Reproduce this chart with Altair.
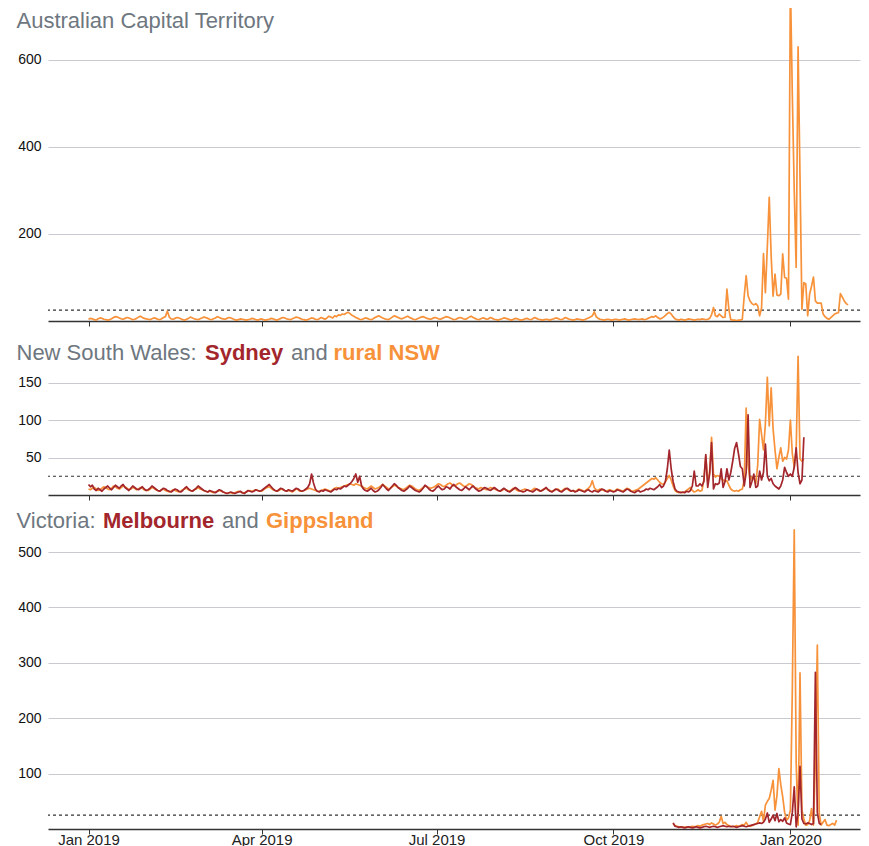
import altair as alt
import pandas as pd

# ---------------- data (daily PM2.5) ----------------
act_start = "2019-01-01"
act_pm = [
    # Jan 2019
    4, 6, 5, 3, 2, 5, 7, 6, 4, 3, 2, 3, 5, 8, 10, 9, 7, 5, 4, 6, 8, 7, 5, 3, 4, 6, 9, 11, 8, 6, 5,
    # Feb
    4, 3, 5, 7, 6, 4, 3, 5, 8, 10, 23, 9, 5, 4, 6, 8, 7, 5, 3, 2, 4, 6, 9, 7, 5, 4, 3, 5,
    # Mar
    7, 9, 8, 6, 4, 3, 5, 7, 10, 8, 6, 5, 4, 6, 8, 7, 5, 3, 2, 3, 5, 4, 3, 2, 3, 4, 6, 5, 3, 2, 4,
    # Apr
    5, 3, 2, 3, 4, 6, 5, 3, 2, 4, 6, 8, 7, 5, 4, 3, 5, 7, 9, 8, 6, 4, 3, 2, 3, 5, 7, 6, 4, 3,
    # May
    5, 8, 6, 4, 7, 11, 9, 7, 12, 10, 14, 13, 16, 15, 18, 20, 17, 13, 11, 8, 6, 4, 3, 5, 7, 6, 4, 3, 5, 8, 10,
    # Jun
    12, 9, 7, 5, 4, 3, 6, 9, 12, 10, 8, 6, 5, 7, 9, 11, 8, 6, 4, 3, 5, 7, 9, 10, 8, 6, 5, 4, 6, 8,
    # Jul
    7, 5, 4, 6, 8, 10, 9, 7, 5, 3, 4, 6, 8, 7, 5, 4, 6, 9, 11, 8, 6, 4, 3, 5, 7, 6, 4, 5, 8, 6, 4,
    # Aug
    3, 2, 4, 5, 7, 6, 5, 3, 2, 4, 6, 5, 3, 2, 3, 5, 6, 4, 3, 5, 8, 6, 4, 3, 2, 3, 4, 3, 2, 4, 5,
    # Sep
    7, 6, 4, 3, 5, 8, 6, 4, 3, 2, 3, 5, 4, 3, 2, 3, 5, 7, 9, 12, 21, 10, 6, 4, 3, 2, 3, 4, 3, 2,
    # Oct
    3, 4, 3, 2, 3, 4, 5, 3, 2, 3, 4, 5, 4, 3, 4, 5, 3, 4, 6, 8, 10, 9, 12, 8, 5, 6, 9, 13, 17, 20, 16,
    # Nov
    10, 5, 3, 2, 4, 3, 2, 3, 5, 4, 3, 2, 3, 4, 3, 5, 4, 3, 4, 6, 14, 31, 12, 10, 16, 12, 8, 9, 73, 27,
    # Dec
    3, 2, 2, 1, 2, 2, 4, 58, 104, 58, 46, 40, 37, 40, 35, 12, 30, 155, 65, 170, 284, 150, 57, 108, 60, 58,
    62, 154, 100, 98, 50,
    # Jan 2020
    780, 520, 300, 123, 630, 330, 27, 88, 85, 12, 62, 80, 101, 46, 41, 41, 41, 16, 10, 6, 4, 8, 12, 16,
    18, 19, 63, 55, 46, 40, 37,
]

nsw_start = "2019-01-01"
sydney_pm = [
    14, 11, 13, 8, 6, 9, 7, 5, 8, 10, 12, 9, 7, 10, 13, 11, 9, 12, 14, 10, 8, 6, 9, 12, 10, 8, 7, 9, 11, 8, 6,
    7, 9, 12, 10, 8, 6, 5, 7, 9, 8, 6, 5, 4, 6, 8, 7, 5, 4, 6, 9, 11, 8, 6, 5, 7, 9, 12, 10,
    8, 6, 5, 4, 6, 5, 4, 3, 5, 7, 6, 4, 3, 2, 3, 4, 3, 2, 3, 4, 5, 3, 2, 4, 6, 5, 4, 5, 7, 6, 5,
    6, 8, 10, 12, 14, 11, 8, 6, 5, 7, 9, 8, 6, 5, 7, 6, 5, 7, 9, 8, 6, 5, 6, 8, 10, 15, 28, 16, 8, 5,
    4, 6, 5, 7, 6, 5, 4, 6, 8, 7, 9, 8, 10, 12, 11, 13, 15, 18, 22, 28, 17, 25, 12, 8, 6, 5, 7, 9, 6, 4, 5,
    7, 10, 14, 11, 8, 6, 9, 12, 15, 13, 10, 8, 6, 5, 7, 9, 12, 10, 8, 6, 5, 4, 6, 9, 13, 11, 8, 6, 5, 7,
    10, 12, 9, 7, 8, 11, 10, 8, 12, 14, 11, 9, 7, 6, 8, 11, 9, 7, 10, 12, 9, 7, 5, 6, 8, 10, 9, 7, 6, 8, 10,
    8, 6, 5, 7, 9, 7, 5, 4, 6, 8, 10, 8, 6, 5, 4, 5, 7, 6, 5, 4, 6, 8, 7, 5, 6, 8, 10, 7, 5, 4, 6,
    8, 7, 5, 4, 6, 8, 9, 7, 5, 6, 4, 5, 7, 6, 5, 4, 6, 7, 5, 4, 6, 5, 4, 6, 8, 7, 5, 4, 6, 5,
    4, 5, 7, 6, 5, 4, 6, 8, 7, 5, 4, 3, 5, 6, 4, 5, 6, 8, 7, 9, 8, 7, 9, 11, 14, 10, 12, 18, 35, 60, 35,
    18, 8, 5, 4, 3, 4, 3, 5, 4, 6, 12, 32, 12, 12, 15, 12, 18, 54, 10, 28, 70, 8, 15, 14, 16, 35, 10, 18, 35, 20,
    30, 45, 62, 70, 55, 38, 35, 12, 30, 107, 10, 18, 28, 10, 12, 32, 20, 30, 68, 25, 19, 22, 15, 12, 10, 8,
    12, 20, 37, 30, 25,
    28, 25, 37, 63, 30, 15, 20, 77,
]
rural_nsw_pm = [
    8, 7, 9, 10, 8, 6, 7, 9, 11, 10, 8, 7, 9, 12, 11, 9, 8, 10, 12, 11, 9, 7, 8, 10, 9, 7, 8, 10, 9, 7, 6,
    6, 8, 10, 9, 7, 6, 5, 7, 8, 6, 5, 4, 5, 7, 6, 5, 4, 5, 7, 8, 9, 7, 6, 5, 7, 8, 10, 8,
    7, 6, 5, 4, 5, 4, 3, 4, 5, 6, 5, 4, 3, 2, 3, 3, 2, 3, 4, 5, 4, 3, 3, 4, 5, 6, 5, 6, 7, 6, 5,
    5, 7, 9, 10, 11, 9, 7, 6, 5, 6, 8, 7, 6, 5, 6, 5, 4, 6, 8, 7, 5, 5, 6, 7, 8, 9, 8, 7, 6, 5,
    5, 6, 7, 8, 7, 6, 5, 7, 9, 10, 9, 10, 11, 12, 13, 14, 15, 14, 13, 15, 14, 13, 12, 10, 9, 8, 10, 12, 10, 8, 9,
    10, 12, 14, 12, 10, 8, 9, 11, 13, 12, 10, 9, 8, 7, 9, 11, 13, 12, 10, 8, 7, 6, 8, 10, 12, 11, 10, 9, 10, 11,
    13, 15, 14, 12, 11, 13, 15, 16, 14, 12, 13, 15, 16, 14, 12, 11, 13, 15, 14, 12, 10, 9, 8, 10, 9, 8, 7, 8, 10, 9, 8,
    7, 6, 5, 6, 8, 7, 6, 5, 7, 9, 8, 6, 5, 6, 7, 8, 7, 6, 5, 7, 9, 8, 6, 5, 7, 8, 9, 7, 6, 5, 6,
    7, 8, 6, 5, 7, 9, 8, 6, 5, 6, 5, 6, 8, 7, 6, 5, 7, 9, 12, 19, 10, 7, 6, 8, 7, 6, 5, 6, 7, 6,
    5, 6, 8, 7, 6, 5, 7, 9, 8, 6, 5, 6, 7, 8, 10, 12, 14, 16, 18, 20, 22, 21, 23, 20, 17, 15, 14, 18, 22, 26, 20,
    12, 6, 4, 3, 4, 3, 4, 6, 8, 10, 6, 4, 5, 7, 5, 6, 20, 52, 18, 30, 77, 28, 24, 26, 25, 22, 20, 18, 19, 13,
    8, 6, 5, 6, 5, 7, 8, 20, 116, 40, 20, 24, 22, 15, 40, 101, 81, 60, 95, 157, 92, 143, 88, 60, 35, 50,
    63, 45, 50, 48, 60,
    100, 55, 37, 60, 185, 48, 45, 48,
]

vic_start = "2019-11-01"
melbourne_pm = [
    11, 5, 4, 3, 4, 3, 2, 3, 4, 3, 2, 3, 4, 3, 2, 3, 4, 5, 4, 3, 4, 5, 4, 3, 4, 5, 6, 5, 4, 5,
    4, 5, 4, 3, 4, 5, 6, 5, 4, 5, 6, 7, 8, 9, 10, 11, 10, 12, 18, 29, 12, 18, 25, 15, 28, 13, 17, 14, 20, 11, 9,
    8, 30, 76, 4, 30, 113, 18, 10, 9, 11, 10, 8, 10, 283, 30, 10, 8,
]
gippsland_pm = [
    10, 6, 5, 4, 3, 4, 3, 4, 3, 4, 5, 4, 5, 6, 5, 7, 8, 9, 10, 8, 11, 9, 7, 9, 12, 23, 10, 12, 8, 6,
    5, 4, 5, 6, 5, 6, 8, 7, 12, 6, 5, 6, 8, 9, 12, 22, 32, 14, 43, 50, 55, 70, 88, 34, 60, 109, 80, 58, 30, 16, 20,
    34, 250, 540, 120, 7, 282, 34, 18, 7, 8, 15, 37, 7, 120, 332, 28, 7, 12, 17, 7, 6, 8, 10, 7, 16,
]

threshold = [25]

act_y_ticks = [200, 400, 600]
nsw_y_ticks = [50, 100, 150]
vic_y_ticks = [100, 200, 300, 400, 500]
x_tick_dates = ["2019-01-01", "2019-04-01", "2019-07-01", "2019-10-01", "2020-01-01"]

act_title = ["Australian Capital Territory"]
nsw_title = ["New South Wales:", "Sydney", "and", "rural NSW"]
vic_title = ["Victoria:", "Melbourne", "and", "Gippsland"]

# ---------------- styling / layout ----------------
ORANGE = "#f7923a"
RED = "#a3262c"
GREY = "#6e7780"
FONT = "Liberation Sans, Arial, Helvetica, sans-serif"
NARROW = "Liberation Sans Narrow, Arial Narrow, Liberation Sans, sans-serif"

W = 812
PX_PER_DAY = 1.923
JAN2019_OFFSET_PX = 40.5
x_start = pd.Timestamp("2019-01-01") - pd.Timedelta(days=JAN2019_OFFSET_PX / PX_PER_DAY)
x_end = x_start + pd.Timedelta(days=W / PX_PER_DAY)


def dt(ts):
    ts = pd.Timestamp(ts)
    return alt.DateTime(year=ts.year, month=ts.month, date=ts.day,
                        hours=ts.hour, minutes=ts.minute)


def series_df(start, values):
    return pd.DataFrame({"date": pd.date_range(start, periods=len(values), freq="D"),
                         "value": values})


def x_axis(show_labels):
    return alt.Axis(values=[dt(d) for d in x_tick_dates], format="%b %Y", labels=show_labels,
                    grid=False, domain=True, domainColor="#333333", domainWidth=1.5,
                    ticks=True, tickSize=5, tickColor="#333333", tickWidth=1,
                    labelFont=NARROW, labelFontSize=15, labelColor="#222222",
                    labelPadding=-2, labelOverlap=False, labelFlush=False, title=None)


def y_axis(ticks):
    return alt.Axis(values=ticks, grid=True, gridColor="#c9c9d1", gridWidth=1,
                    domain=False, ticks=False, labelPadding=7, labelFont=FONT,
                    labelFontSize=14, labelColor="#111111", title=None)


def panel(series, ymax, yticks, height, segments, title_y, show_x_labels, clip):
    x_enc = alt.X("date:T", scale=alt.Scale(domain=[dt(x_start), dt(x_end)]),
                  axis=x_axis(show_x_labels))
    yscale = alt.Scale(domain=[0, ymax], nice=False, zero=False)
    y_enc = alt.Y("value:Q", scale=yscale, axis=y_axis(yticks))
    layers = [
        alt.Chart(pd.DataFrame({"value": threshold}))
        .mark_rule(color="#333333", strokeDash=[3, 3], strokeWidth=1.2)
        .encode(y=y_enc)
    ]
    for df, color in series:
        layers.append(
            alt.Chart(df).mark_line(color=color, strokeWidth=1.7, clip=clip,
                                    strokeJoin="round")
            .encode(x=x_enc, y=y_enc)
        )
    for text, xo, color, weight in segments:
        layers.append(
            alt.Chart(pd.DataFrame({"t": [text]}))
            .mark_text(align="left", baseline="alphabetic", font=FONT, fontSize=22,
                       fontWeight=weight, color=color)
            .encode(x=alt.value(xo), y=alt.value(title_y), text="t:N")
        )
    return alt.layer(*layers).properties(width=W, height=height)


TX = -31.5
act_panel = panel(
    [(series_df(act_start, act_pm), ORANGE)],
    719, act_y_ticks, 313,
    [(act_title[0], TX, GREY, "normal")],
    20, False, True,
)
nsw_panel = panel(
    [(series_df(nsw_start, rural_nsw_pm), ORANGE), (series_df(nsw_start, sydney_pm), RED)],
    184, nsw_y_ticks, 138,
    [(nsw_title[0], TX, GREY, "normal"),
     (nsw_title[1], TX + 188.5, RED, "bold"),
     (nsw_title[2], TX + 274.5, GREY, "normal"),
     (nsw_title[3], TX + 317.0, ORANGE, "bold")],
    2.5, False, False,
)
vic_panel = panel(
    [(series_df(vic_start, gippsland_pm), ORANGE), (series_df(vic_start, melbourne_pm), RED)],
    538, vic_y_ticks, 298,
    [(vic_title[0], TX, GREY, "normal"),
     (vic_title[1], TX + 86.5, RED, "bold"),
     (vic_title[2], TX + 205.5, GREY, "normal"),
     (vic_title[3], TX + 249.5, ORANGE, "bold")],
    -3.3, True, False,
)

chart = (
    alt.vconcat(act_panel, nsw_panel, vic_panel, spacing=36, bounds="flush")
    .properties(padding={"left": 8, "top": 0, "right": 0, "bottom": 0})
    .configure_view(strokeWidth=0)
)

chart.save("out.html", embed_options={"renderer": "svg", "actions": False})
